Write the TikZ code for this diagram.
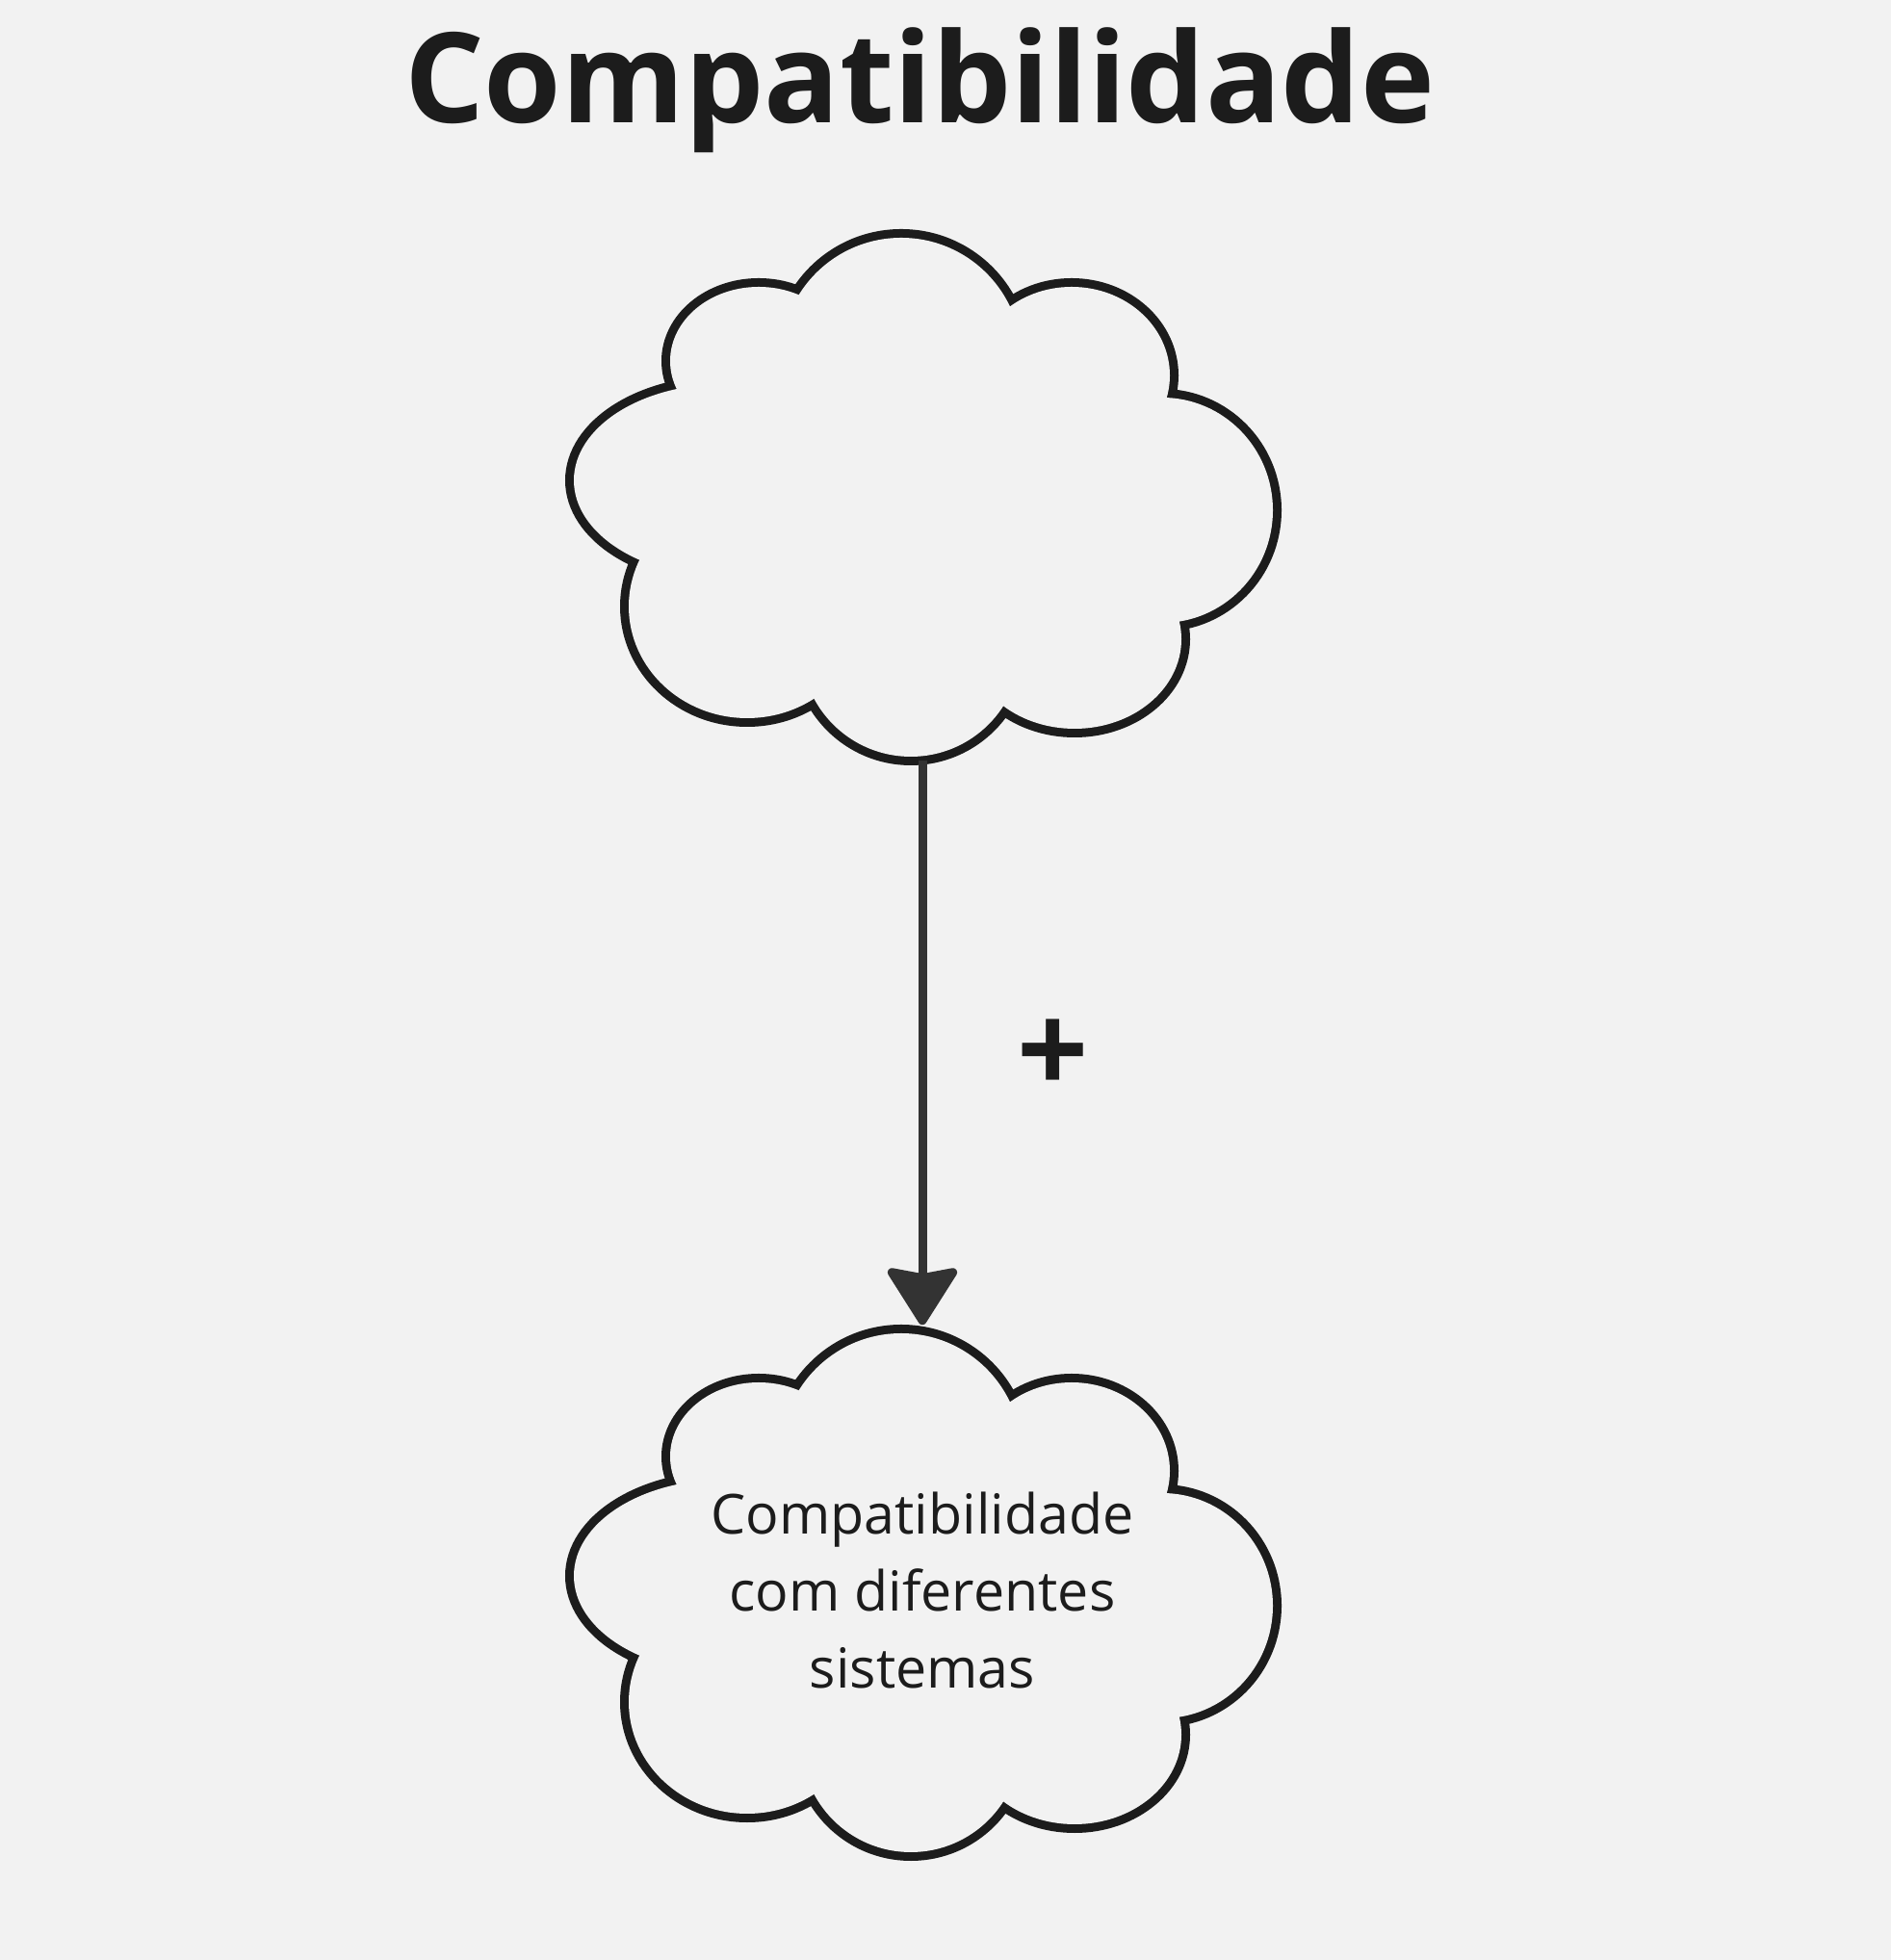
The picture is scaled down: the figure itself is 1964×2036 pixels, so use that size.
\documentclass[tikz,border=0pt]{standalone}
\usepackage{fontspec}
\setmainfont{Open Sans}
\usetikzlibrary{arrows.meta}

\definecolor{canvas}{HTML}{F2F2F2}
\definecolor{ink}{HTML}{1C1C1C}
\definecolor{edgeink}{HTML}{333333}

% lobes of the cloud: centre x / centre y / x radius / y radius
\newcommand{\cloudlobes}{-22/142/125/125, 155/124/102/92, 249/-16/115/117,
  158/-150/111/93, -12/-158/114/114, -182/-116/123/116, -206/15/156/100,
  -170/139/92/77}
\newcommand{\cloudoutline}[1]{%
  \begin{scope}[shift={(#1)}]
    \foreach \cx/\cy/\rx/\ry in \cloudlobes
      \draw[ink, line width=0.18cm] (\cx,\cy) ellipse [x radius=\rx, y radius=\ry];
    \foreach \cx/\cy/\rx/\ry in \cloudlobes
      \fill[canvas] (\cx,\cy) ellipse [x radius=\rx, y radius=\ry];
    \fill[canvas] (0,0) ellipse [x radius=250, y radius=190];
  \end{scope}}

\begin{document}
\begin{tikzpicture}[x=0.01cm, y=0.01cm,
  heading/.style={text=ink, font=\fontsize{37}{44}\selectfont\bfseries},
  cloudnode/.style={minimum width=7.4cm, minimum height=5.5cm, inner sep=0pt,
    align=center, text=ink, font=\fontsize{16.3}{22.8}\selectfont},
  link/.style={edgeink, line width=0.09cm,
    -{Stealth[length=0.64cm, width=0.8cm, inset=0.07cm, round]}},
  plus/.style={text=ink, font=\fontsize{37}{44}\selectfont\bfseries}]
\fill[canvas] (0,0) rectangle (1964,2036);
\coordinate (topc) at (958,1522);
\coordinate (botc) at (958,384);
\cloudoutline{topc}
\cloudoutline{botc}
\node[heading, anchor=base] (title) at (955,1908) {Compatibilidade};
\node[cloudnode] (idea) at (topc) {};
\node[cloudnode] (compat) at (botc) {Compatibilidade\\com diferentes\\sistemas};
\draw[link] (idea) -- node[plus, xshift=1.36cm, yshift=-0.15cm] (sign) {+} (compat);
\end{tikzpicture}
\end{document}
